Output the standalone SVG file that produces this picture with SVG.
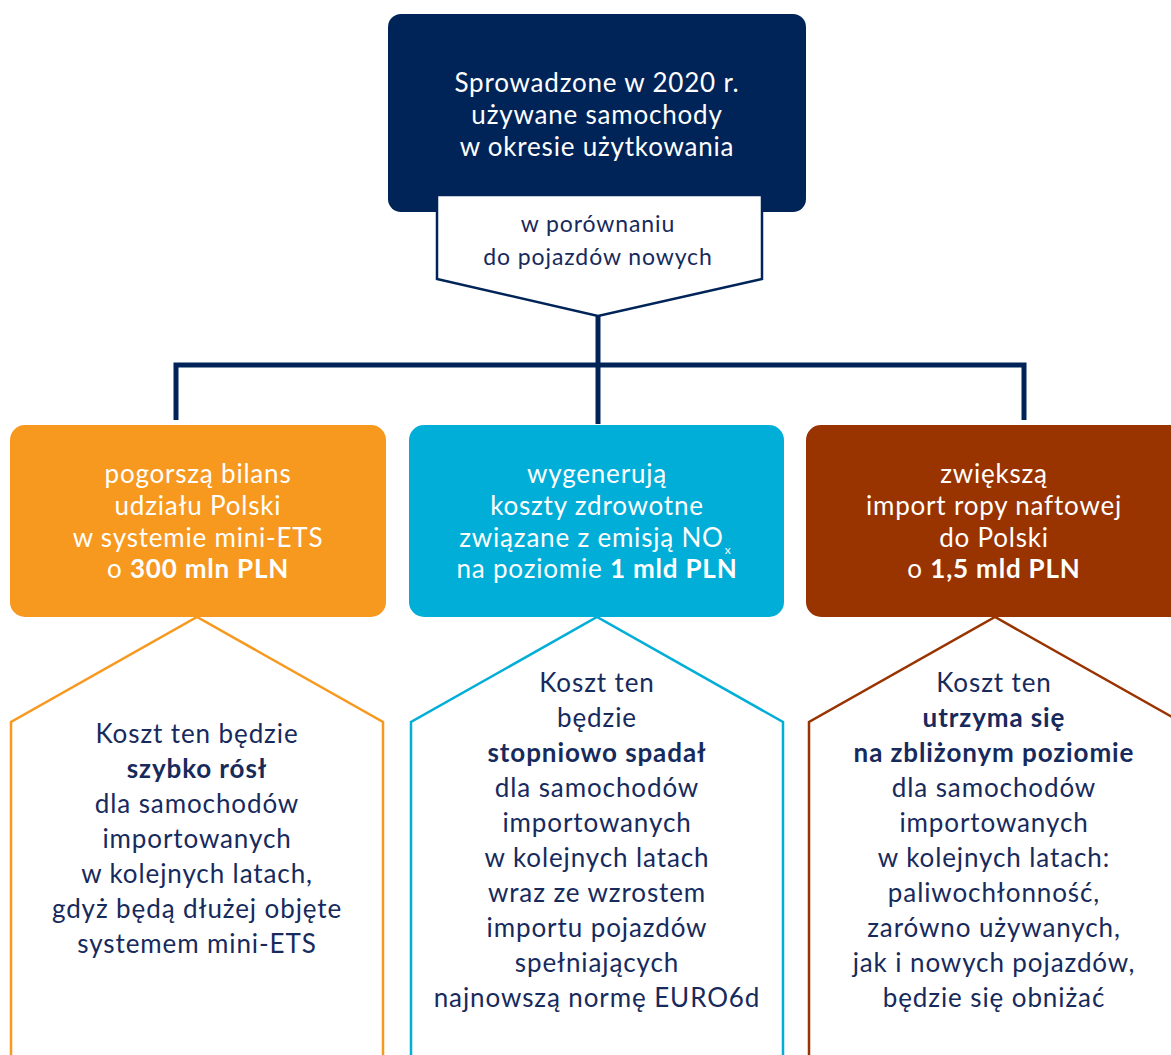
<svg xmlns="http://www.w3.org/2000/svg" width="1171" height="1055" viewBox="0 0 1171 1055">
<style>
text{font-family:Lato,"Open Sans","Liberation Sans",sans-serif;text-anchor:middle}
.w{fill:#ffffff;font-size:26px;letter-spacing:0.8px}
.n{fill:#172a5c;font-size:26px;letter-spacing:0.9px}
.s{fill:#172a5c;font-size:23px;letter-spacing:0.9px}
.b{font-weight:bold}
.sub{font-size:12px;letter-spacing:0}
.conn{fill:none;stroke:#002458;stroke-width:5}
</style>
<rect width="1171" height="1055" fill="#ffffff"/>
<g id="top">
<rect x="388" y="14" width="418" height="198" rx="13" fill="#002458"/>
<text class="w" x="597" y="92">Sprowadzone w 2020 r.</text>
<text class="w" x="597" y="124">używane samochody</text>
<text class="w" x="597" y="156">w okresie użytkowania</text>
</g>
<g id="compare">
<path d="M437,195 H762 V279 L598,316 L437,279 Z" fill="#ffffff" stroke="#002458" stroke-width="2.5"/>
<text class="s" x="598" y="232">w porównaniu</text>
<text class="s" x="598" y="265">do pojazdów nowych</text>
</g>
<g id="connectors">
<path class="conn" d="M598,316 V424"/>
<path class="conn" d="M176,420 V365 H1024 V420"/>
</g>
<g id="ets">
<rect x="10" y="425" width="376" height="192" rx="15" fill="#f7991f"/>
<text class="w" x="198" y="483">pogorszą bilans</text>
<text class="w" x="198" y="515">udziału Polski</text>
<text class="w" x="198" y="547">w systemie mini-ETS</text>
<text class="w" x="198" y="578">o <tspan class="b">300 mln PLN</tspan></text>
</g>
<g id="health">
<rect x="409" y="425" width="375" height="192" rx="15" fill="#00aed8"/>
<text class="w" x="597" y="483">wygenerują</text>
<text class="w" x="597" y="515">koszty zdrowotne</text>
<text class="w" x="595" y="547">związane z emisją NO<tspan class="sub" dx="1" dy="7">x</tspan></text>
<text class="w" x="597" y="578">na poziomie <tspan class="b">1 mld PLN</tspan></text>
</g>
<g id="oil">
<rect x="806" y="425" width="390" height="192" rx="15" fill="#993300"/>
<text class="w" x="994" y="483">zwiększą</text>
<text class="w" x="994" y="515">import ropy naftowej</text>
<text class="w" x="994" y="547">do Polski</text>
<text class="w" x="994" y="578">o <tspan class="b">1,5 mld PLN</tspan></text>
</g>
<g id="ets-detail">
<path d="M11,1060 V722 L197,617 L383,722 V1060" fill="none" stroke="#f7991f" stroke-width="2.5"/>
<text class="n" x="197" y="743">Koszt ten będzie</text>
<text class="n b" x="197" y="778">szybko rósł</text>
<text class="n" x="197" y="813">dla samochodów</text>
<text class="n" x="197" y="848">importowanych</text>
<text class="n" x="197" y="883">w kolejnych latach,</text>
<text class="n" x="197" y="918">gdyż będą dłużej objęte</text>
<text class="n" x="197" y="953">systemem mini-ETS</text>
</g>
<g id="health-detail">
<path d="M411,1060 V722 L597,617 L783,722 V1060" fill="none" stroke="#00aed8" stroke-width="2.5"/>
<text class="n" x="597" y="692">Koszt ten</text>
<text class="n" x="597" y="727">będzie</text>
<text class="n b" x="597" y="762">stopniowo spadał</text>
<text class="n" x="597" y="797">dla samochodów</text>
<text class="n" x="597" y="832">importowanych</text>
<text class="n" x="597" y="867">w kolejnych latach</text>
<text class="n" x="597" y="902">wraz ze wzrostem</text>
<text class="n" x="597" y="937">importu pojazdów</text>
<text class="n" x="597" y="972">spełniających</text>
<text class="n" x="597" y="1007">najnowszą normę EURO6d</text>
</g>
<g id="oil-detail">
<path d="M809,1060 V722 L995,617 L1181,722 V1060" fill="none" stroke="#993300" stroke-width="2.5"/>
<text class="n" x="994" y="692">Koszt ten</text>
<text class="n b" x="994" y="727">utrzyma się</text>
<text class="n b" x="994" y="762">na zbliżonym poziomie</text>
<text class="n" x="994" y="797">dla samochodów</text>
<text class="n" x="994" y="832">importowanych</text>
<text class="n" x="994" y="867">w kolejnych latach:</text>
<text class="n" x="994" y="902">paliwochłonność,</text>
<text class="n" x="994" y="937">zarówno używanych,</text>
<text class="n" x="994" y="972">jak i nowych pojazdów,</text>
<text class="n" x="994" y="1007">będzie się obniżać</text>
</g>
</svg>
